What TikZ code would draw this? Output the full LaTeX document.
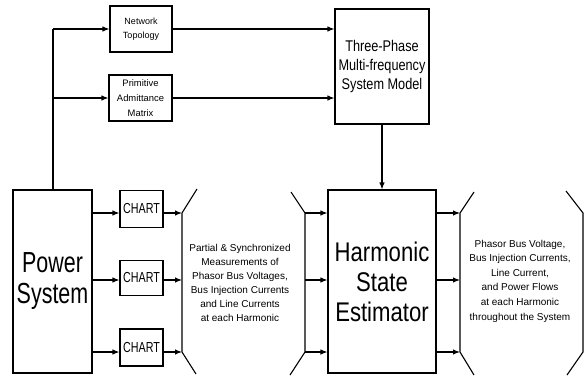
\documentclass[tikz,border=0pt]{standalone}
\usepackage{fontspec}
\setmainfont{Liberation Sans}
\newfontfamily\narA[FakeStretch=0.74]{Liberation Sans}
\newfontfamily\narB[FakeStretch=0.82]{Liberation Sans}
\usetikzlibrary{arrows.meta}
\begin{document}
\begin{tikzpicture}[x=1pt,y=-1pt,
  line width=1.1pt,
  blk/.style={draw, line width=1.1pt, inner sep=0pt, align=center},
  arr/.style={-{Latex[length=7pt,width=5.5pt]}},
  ln/.style={line width=1.1pt}]
\useasboundingbox (0,0) rectangle (586,378);

% main blocks
\node[blk, minimum width=79pt, minimum height=183pt, text depth=6pt, font=\narA\fontsize{29}{31}\selectfont]
  (ps) at (52.5,281.5) {Power\\System};
\node[blk, minimum width=62pt, minimum height=46pt, font=\fontsize{9}{14}\selectfont]
  (nt) at (141,29) {Network\\Topology};
\node[blk, minimum width=63pt, minimum height=46pt, font=\fontsize{9.4}{15}\selectfont]
  (pam) at (140.5,98) {Primitive\\Admittance\\Matrix};
\node[blk, minimum width=94pt, minimum height=115pt, font=\narB\fontsize{15.5}{19}\selectfont]
  (tp) at (382,66.5) {Three-Phase\\Multi-frequency\\System Model};
\node[blk, minimum width=108pt, minimum height=183pt, font=\narB\fontsize{27}{30}\selectfont]
  (hse) at (382,281.5) {Harmonic\\State\\Estimator};
\node[blk, minimum width=43pt, minimum height=37pt, font=\narA\fontsize{14.5}{15}\selectfont]
  (c1) at (141.5,209) {CHART};
\node[blk, minimum width=43pt, minimum height=35pt, font=\narA\fontsize{14.5}{15}\selectfont]
  (c2) at (141.5,278) {CHART};
\node[blk, minimum width=43pt, minimum height=37pt, font=\narA\fontsize{14.5}{15}\selectfont]
  (c3) at (141.5,347.5) {CHART};

% coordinates
\coordinate (top) at (53,29);
\coordinate (mid) at (53,98);
\coordinate (r1) at (0,213);
\coordinate (r2) at (0,280);
\coordinate (r3) at (0,352);
% input bracket
\coordinate (m1) at (182,213);
\coordinate (m3) at (182,352);
\coordinate (mt) at (197,189);
\coordinate (mb) at (196,374);
\coordinate (n1) at (305,213);
\coordinate (n3) at (305,352);
\coordinate (nt1) at (291,192);
\coordinate (nb1) at (290,375);
% output bracket
\coordinate (o1) at (460,213);
\coordinate (o3) at (460,352);
\coordinate (ot) at (474,192);
\coordinate (ob) at (474,375);
\coordinate (p1) at (583,213);
\coordinate (p3) at (583,352);
\coordinate (pt) at (566,191);
\coordinate (pb) at (567,375);

% top network
\draw[ln] (ps.north -| top) -- (top);
\draw[arr] (top) -- (nt.west |- top);
\draw[arr] (mid) -- (pam.west |- mid);
\draw[arr] (nt.east |- top) -- (tp.west |- top);
\draw[arr] (pam.east |- mid) -- (tp.west |- mid);
\draw[arr] (tp.south) -- (hse.north);

% power system to charts
\draw[arr] (ps.east |- r1) -- (c1.west |- r1);
\draw[arr] (ps.east |- r2) -- (c2.west |- r2);
\draw[arr] (ps.east |- r3) -- (c3.west |- r3);
\draw[arr] (c1.east |- r1) -- (m1);
\draw[arr] (c2.east |- r2) -- (m1 |- r2);
\draw[arr] (c3.east |- r3) -- (m3);

% input bracket
\draw[ln] (mt) -- (m1) -- (m3) -- (mb);
\draw[ln] (nt1) -- (n1) -- (n3) -- (nb1);
\node[font=\fontsize{10}{14}\selectfont, align=center] (meas) at (240,283)
  {Partial \& Synchronized\\Measurements of\\Phasor Bus Voltages,\\Bus Injection Currents\\and Line Currents\\at each Harmonic};
\draw[arr] (n1) -- (hse.west |- n1);
\draw[arr] (n1 |- r2) -- (hse.west |- r2);
\draw[arr] (n3) -- (hse.west |- n3);

% output
\draw[arr] (hse.east |- o1) -- (o1);
\draw[arr] (hse.east |- r2) -- (o1 |- r2);
\draw[arr] (hse.east |- o3) -- (o3);
\draw[ln] (ot) -- (o1) -- (o3) -- (ob);
\draw[ln] (pt) -- (p1) -- (p3) -- (pb);
\node[font=\fontsize{10}{14.6}\selectfont, align=center] (outp) at (520,281)
  {Phasor Bus Voltage,\\Bus Injection Currents,\\Line Current,\\and Power Flows\\at each Harmonic\\throughout the System};
\end{tikzpicture}
\end{document}
